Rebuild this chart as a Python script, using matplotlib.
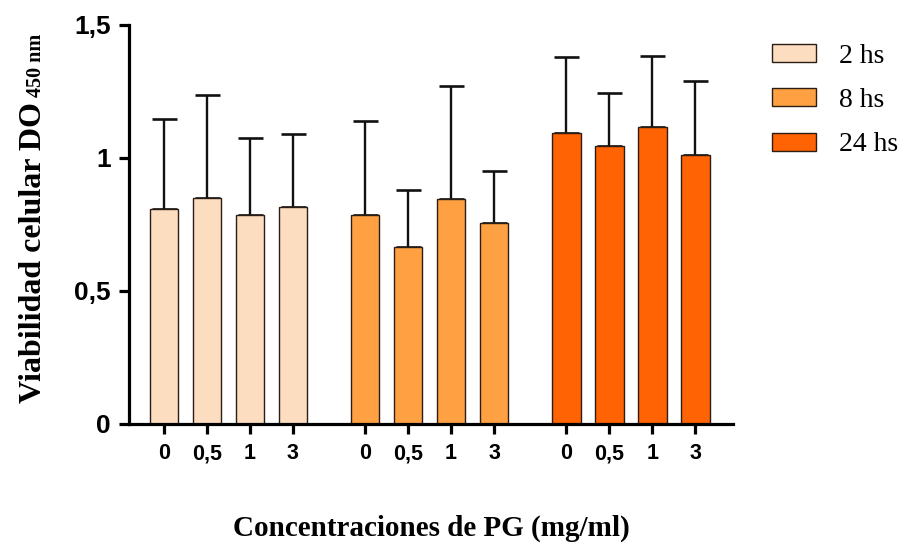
import numpy as np
import matplotlib
matplotlib.use('Agg')
import matplotlib.pyplot as plt
from matplotlib.patches import Patch

# medias y desvio (solo se dibuja la barra superior)
concentraciones = ['0', '0,5', '1', '3']
tiempos = ['2 hs', '8 hs', '24 hs']
media_2hs = [0.81, 0.85, 0.785, 0.815]
media_8hs = [0.785, 0.665, 0.845, 0.755]
media_24hs = [1.095, 1.045, 1.115, 1.01]
sd_2hs = [0.335, 0.385, 0.29, 0.275]
sd_8hs = [0.355, 0.215, 0.425, 0.195]
sd_24hs = [0.285, 0.20, 0.27, 0.28]

colores = ['#FDDDC0', '#FFA142', '#FF6304']
medias = [media_2hs, media_8hs, media_24hs]
sds = [sd_2hs, sd_8hs, sd_24hs]

fig = plt.figure(figsize=(9.03, 5.44), dpi=100)
ax = fig.add_axes([0.1429, 0.2206, 0.6686, 0.7335])

ancho = 0.66
salto = 4.68  # distancia entre grupos
xs_all, labels_all = [], []
for g in range(3):
    xs = np.arange(4) + g * salto
    ax.bar(xs, medias[g], width=ancho, color=colores[g], edgecolor='#2b1d14',
           linewidth=1.0, zorder=2)
    ax.errorbar(xs, medias[g], yerr=[np.zeros(4), sds[g]], fmt='none',
                ecolor='#111111', elinewidth=1.7, capsize=9, capthick=1.9,
                zorder=1)
    xs_all += list(xs)
    labels_all += concentraciones

ax.set_xlim(-0.81, 13.23)
ax.set_ylim(0, 1.5)
ax.set_yticks([0, 0.5, 1, 1.5])
ax.set_yticklabels(['0', '0,5', '1', '1,5'])
ax.set_xticks(xs_all)
ax.set_xticklabels(labels_all)

for s in ['top', 'right']:
    ax.spines[s].set_visible(False)
for s in ['left', 'bottom']:
    ax.spines[s].set_linewidth(2.3)
ax.tick_params(axis='y', length=7, width=2.3, pad=6)
ax.tick_params(axis='x', length=7, width=2.3, pad=7)
for t in ax.get_yticklabels():
    t.set_fontfamily('Liberation Sans')
    t.set_fontweight('bold')
    t.set_fontsize(19)
for t in ax.get_xticklabels():
    t.set_fontfamily('Liberation Sans')
    t.set_fontweight('bold')
    t.set_fontsize(15.5)

fig.text(0.478, 0.016, 'Concentraciones de PG (mg/ml)', ha='center', va='baseline',
         fontfamily='Liberation Serif', fontweight='bold', fontsize=21)

# eje y con subindice
t1 = fig.text(0.045, 0.259, 'Viabilidad celular DO', rotation=90, rotation_mode='anchor',
              ha='left', va='baseline', fontfamily='Liberation Serif',
              fontweight='bold', fontsize=23)
fig.canvas.draw()
bb = t1.get_window_extent()
y_top = (bb.y1 + 5) / fig.bbox.height
fig.text(0.045, y_top, '450 nm', rotation=90, rotation_mode='anchor',
         ha='left', va='baseline', fontfamily='Liberation Serif',
         fontweight='bold', fontsize=14.5)

handles = [Patch(facecolor=c, edgecolor='#2b1d14', linewidth=1.0) for c in colores]
fig.legend(handles, tiempos, loc='upper left', bbox_to_anchor=(0.855, 0.92),
           frameon=False, borderpad=0, borderaxespad=0, handlelength=1.58,
           handleheight=0.61, handletextpad=0.83, labelspacing=0.7,
           prop={'family': 'Liberation Serif', 'size': 20})

fig.savefig('out.png', dpi=100)
